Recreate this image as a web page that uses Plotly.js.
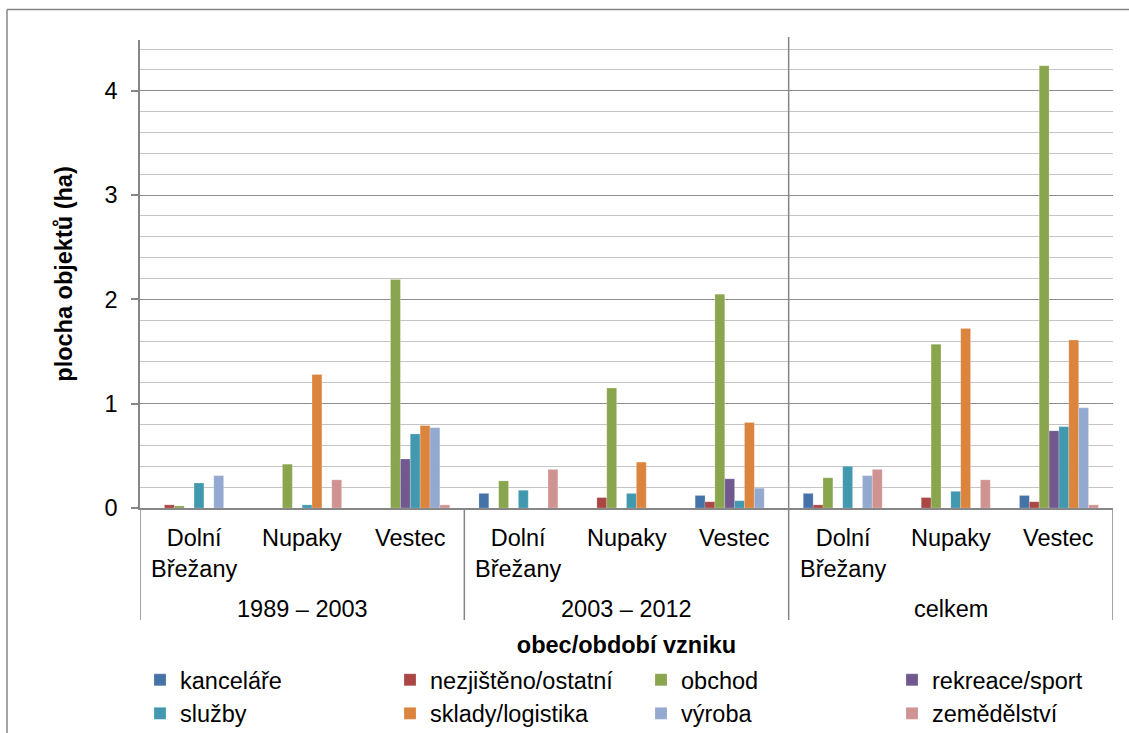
<!DOCTYPE html>
<html>
<head>
<meta charset="utf-8">
<script src="https://cdn.plot.ly/plotly-3.0.1.min.js"></script>
<style>
  html, body { margin: 0; padding: 0; background: #ffffff; }
  #chart { width: 1129px; height: 733px; }
</style>
</head>
<body>
<div id="chart"></div>
<script>
// Období vzniku (vnější skupiny) a obce (vnitřní kategorie)
const periods = ['1989 – 2003', '2003 – 2012', 'celkem'];
const towns = ['Dolní Břežany', 'Nupaky', 'Vestec'];

// Plocha objektů (ha) podle funkce; pořadí hodnot: období × obec
const kancelare   = [0,    0,    0,    0.14, 0,    0.12, 0.14, 0,    0.12];
const nezjisteno  = [0.03, 0,    0,    0,    0.10, 0.06, 0.03, 0.10, 0.06];
const obchod      = [0.02, 0.42, 2.19, 0.26, 1.15, 2.05, 0.29, 1.57, 4.24];
const rekreace    = [0,    0,    0.47, 0,    0,    0.28, 0,    0,    0.74];
const sluzby      = [0.24, 0.03, 0.71, 0.17, 0.14, 0.07, 0.40, 0.16, 0.78];
const sklady      = [0,    1.28, 0.79, 0,    0.44, 0.82, 0,    1.72, 1.61];
const vyroba      = [0.31, 0,    0.77, 0,    0,    0.19, 0.31, 0,    0.96];
const zemedelstvi = [0,    0.27, 0.03, 0.37, 0,    0,    0.37, 0.27, 0.03];

const seriesNames = ['kanceláře', 'nezjištěno/ostatní', 'obchod', 'rekreace/sport',
                     'služby', 'sklady/logistika', 'výroba', 'zemědělství'];
const seriesValues = [kancelare, nezjisteno, obchod, rekreace,
                      sluzby, sklady, vyroba, zemedelstvi];
const seriesColors = ['#4572A7', '#AA4643', '#89A54E', '#71588F',
                      '#4198AF', '#DB843D', '#93A9CF', '#D19392'];
// legend column for each series (4 columns × 2 rows)
const legendOf = ['legend', 'legend2', 'legend3', 'legend4',
                  'legend', 'legend2', 'legend3', 'legend4'];

const FONT = 'Liberation Sans, Arial, Helvetica, sans-serif';
const FS = 23.5;
const GRAY = '#868686';

// plot-area geometry in pixels
const W = 1129, H = 733;
const M = { l: 140, r: 16, t: 40, b: 225 };
const plotW = W - M.l - M.r;
const plotH = H - M.t - M.b;
const yPaper = p => (H - M.b - p) / plotH;   // pixel row -> paper y
const xPaper = p => (p - M.l) / plotW;       // pixel column -> paper x
const yCont = p => 1 - p / H;                // pixel row -> container y

// category keys: one per (period, town)
const keys = [];
periods.forEach(p => towns.forEach(t => keys.push(p + ' | ' + t)));

const traces = seriesNames.map((name, i) => ({
  type: 'bar',
  name: name,
  x: keys,
  y: seriesValues[i],
  legend: legendOf[i],
  marker: { color: seriesColors[i], line: { color: 'rgba(255,255,255,0.35)', width: 0.6 } },
  hoverinfo: 'x+y+name'
}));

const annotations = [];
// inner labels (towns)
keys.forEach((k, i) => {
  annotations.push({
    xref: 'x', yref: 'paper', x: k, y: yPaper(523),
    xanchor: 'center', yanchor: 'top', showarrow: false,
    text: towns[i % towns.length].replace(' ', '<br>'),
    font: { family: FONT, size: FS, color: '#000' }
  });
});
// outer labels (periods)
periods.forEach((p, j) => {
  annotations.push({
    xref: 'x', yref: 'paper', x: j * towns.length + (towns.length - 1) / 2, y: yPaper(609),
    xanchor: 'center', yanchor: 'middle', showarrow: false,
    text: p, font: { family: FONT, size: FS, color: '#000' }
  });
});

const shapes = [];
// group dividers in the category table
for (let j = 0; j <= periods.length; j++) {
  shapes.push({
    type: 'line', xref: 'x', yref: 'paper',
    x0: j * towns.length - 0.5, x1: j * towns.length - 0.5,
    y0: 0, y1: yPaper(620),
    line: { color: GRAY, width: 1.5 }
  });
}
// divider before the totals group runs through the plot
shapes.push({
  type: 'line', xref: 'x', yref: 'paper',
  x0: 2 * towns.length - 0.5, x1: 2 * towns.length - 0.5,
  y0: 0, y1: yPaper(37),
  line: { color: GRAY, width: 1.5 }
});
// chart frame (left and top edges)
shapes.push({
  type: 'line', xref: 'paper', yref: 'paper',
  x0: xPaper(7), x1: xPaper(7), y0: yPaper(9.5), y1: yPaper(H + 5),
  line: { color: GRAY, width: 1.5 }
});
shapes.push({
  type: 'line', xref: 'paper', yref: 'paper',
  x0: xPaper(7), x1: xPaper(W + 5), y0: yPaper(9.5), y1: yPaper(9.5),
  line: { color: GRAY, width: 1.5 }
});

const legendBase = {
  orientation: 'v', xanchor: 'left', yanchor: 'top',
  xref: 'paper', yref: 'container',
  font: { family: FONT, size: FS, color: '#000' },
  bgcolor: 'rgba(0,0,0,0)', borderwidth: 0, tracegroupgap: 0,
  itemclick: false, itemdoubleclick: false
};
const legendCols = [140, 390, 641, 892];
const legendTop = yCont(658);

const layout = {
  width: W, height: H,
  margin: M,
  paper_bgcolor: '#ffffff', plot_bgcolor: '#ffffff',
  font: { family: FONT, size: FS, color: '#000' },
  barmode: 'group', bargap: 0.27, bargroupgap: 0,
  showlegend: true,
  xaxis: {
    type: 'category', showticklabels: false, ticks: '',
    showgrid: false, showline: true, linecolor: GRAY, linewidth: 1.5,
    range: [-0.5, keys.length - 0.5], fixedrange: true,
    title: {
      text: '<b>obec/období vzniku</b>', standoff: 129,
      font: { family: FONT, size: FS, color: '#000' }
    }
  },
  yaxis: {
    range: [0, 4.487], dtick: 1, tick0: 0,
    ticks: 'outside', ticklen: 7, tickwidth: 1.5, tickcolor: GRAY,
    ticklabelstandoff: 9,
    tickfont: { family: FONT, size: FS, color: '#000' },
    showline: true, linecolor: GRAY, linewidth: 1.5,
    showgrid: true, gridcolor: '#8c8c8c', gridwidth: 1.3,
    zeroline: false,
    minor: { dtick: 0.2, showgrid: true, gridcolor: '#c4c4c4', gridwidth: 1.3 },
    fixedrange: true,
    title: {
      text: '<b>plocha objektů (ha)</b>', standoff: 25,
      font: { family: FONT, size: FS, color: '#000' }
    }
  },
  legend:  Object.assign({}, legendBase, { x: xPaper(legendCols[0]), y: legendTop }),
  legend2: Object.assign({}, legendBase, { x: xPaper(legendCols[1]), y: legendTop }),
  legend3: Object.assign({}, legendBase, { x: xPaper(legendCols[2]), y: legendTop }),
  legend4: Object.assign({}, legendBase, { x: xPaper(legendCols[3]), y: legendTop }),
  annotations: annotations,
  shapes: shapes
};

Plotly.newPlot('chart', traces, layout, { displayModeBar: false, responsive: false });
</script>
</body>
</html>
